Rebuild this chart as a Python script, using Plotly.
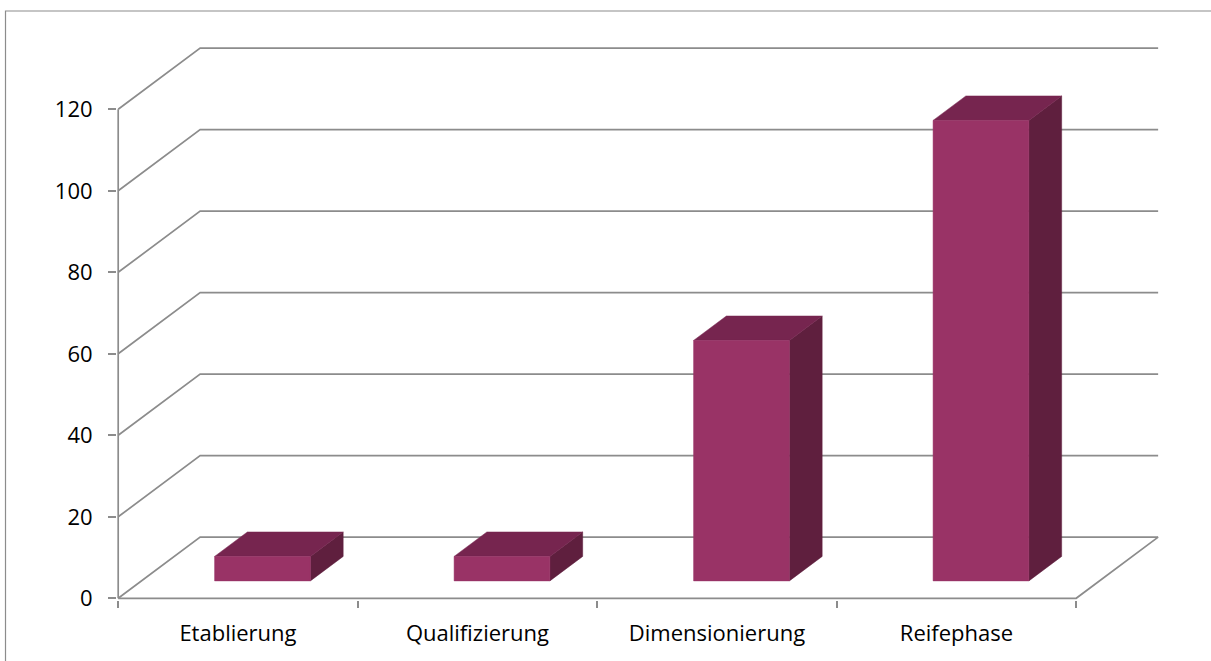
import plotly.graph_objects as go

# ---- data ----
categories = ["Etablierung", "Qualifizierung", "Dimensionierung", "Reifephase"]
values = [6, 6, 59, 113]
y_ticks = [0, 20, 40, 60, 80, 100, 120]
y_max = 120

# ---- 3D oblique projection parameters (in data units) ----
DX = 0.3422   # x shift of full depth (category-band units)
DY = 15.0     # y shift of full depth (value units)
U0, U1 = 0.305, 0.705   # bar extent inside its band
F0, F1 = 0.285, 0.685   # bar depth extent

FRONT = "#993366"
TOP = "#76254f"
SIDE = "#5f1f3e"
GRID = "#8c8c8c"
FONT = "Open Sans"

n = len(categories)
x_left = -0.5
x_right = n - 0.5


def proj(i, u, f, v):
    return (x_left + i + u + f * DX, v + f * DY)


fig = go.Figure()


def line(xs, ys):
    fig.add_trace(go.Scatter(x=xs, y=ys, mode="lines",
                             line=dict(color=GRID, width=1.7),
                             hoverinfo="skip", showlegend=False))


# back wall gridlines + left wall diagonals
for t in y_ticks:
    line([x_left, x_left + DX, x_right + DX], [t, t + DY, t + DY])
# front y axis
line([x_left, x_left], [0, y_max])
# floor front edge and right edge
line([x_left, x_right, x_right + DX], [0, 0, DY])


def poly(pts, color):
    xs = [p[0] for p in pts] + [pts[0][0]]
    ys = [p[1] for p in pts] + [pts[0][1]]
    fig.add_trace(go.Scatter(x=xs, y=ys, mode="lines", fill="toself",
                             fillcolor=color, line=dict(color=color, width=0.5),
                             hoverinfo="skip", showlegend=False))


for i, v in enumerate(values):
    front = [proj(i, U0, F0, 0), proj(i, U1, F0, 0), proj(i, U1, F0, v), proj(i, U0, F0, v)]
    top = [proj(i, U0, F0, v), proj(i, U1, F0, v), proj(i, U1, F1, v), proj(i, U0, F1, v)]
    side = [proj(i, U1, F0, 0), proj(i, U1, F1, 0), proj(i, U1, F1, v), proj(i, U1, F0, v)]
    poly(side, SIDE)
    poly(top, TOP)
    poly(front, FRONT)

# ---- layout geometry (pixels) ----
W, H = 1211, 661
px_x = 239.5       # px per category unit
px_y = 4.075       # px per value unit
left_px = 117.7    # pixel of x_left
zero_px = 598.3    # pixel of y=0

L = 116.5
x0 = x_left - (left_px - L) / px_x
x1 = x_right + DX + 0.012
plot_w = (x1 - x0) * px_x
R = W - L - plot_w

B_px = 600.0
y0 = -(B_px - zero_px) / px_y
T = 46.0
plot_h = B_px - T
y1 = y0 + plot_h / px_y
Bm = H - B_px

fig.update_layout(
    width=W, height=H,
    margin=dict(l=L, r=R, t=T, b=Bm, pad=0, autoexpand=False),
    paper_bgcolor="white", plot_bgcolor="white",
    font=dict(family=FONT, size=22, color="black"),
    showlegend=False,
    xaxis=dict(range=[x0, x1], showgrid=False, zeroline=False, showline=False,
               automargin=False,
               tickmode="array", tickvals=[x_left + k for k in range(n + 1)],
               ticktext=[""] * (n + 1), ticks="outside", ticklen=7,
               tickcolor=GRID, tickwidth=1.7, fixedrange=True),
    xaxis2=dict(range=[x0, x1], overlaying="x", side="bottom", anchor="y",
                showgrid=False, zeroline=False, showline=False, automargin=False,
                tickmode="array", tickvals=list(range(n)), ticktext=categories,
                ticks="outside", ticklen=14, tickcolor="rgba(0,0,0,0)",
                tickfont=dict(family=FONT, size=22, color="black"), fixedrange=True),
    yaxis=dict(range=[y0, y1], showgrid=False, zeroline=False, showline=False,
               automargin=False,
               tickmode="array", tickvals=y_ticks, ticks="outside", ticklen=8,
               tickcolor=GRID, tickwidth=1.7, ticklabelstandoff=11,
               tickfont=dict(family=FONT, size=22, color="black"), fixedrange=True),
    shapes=[dict(type="rect", xref="paper", yref="paper",
                 x0=(5 - L) / plot_w, x1=(W + 20 - L) / plot_w,
                 y0=(B_px - (H + 20)) / plot_h, y1=(B_px - 11) / plot_h,
                 line=dict(color="#8c8c8c", width=1.2), fillcolor="rgba(0,0,0,0)",
                 layer="below")],
)
# dummy trace to activate xaxis2
fig.add_trace(go.Scatter(x=[0], y=[0], xaxis="x2", mode="markers",
                         marker=dict(opacity=0), hoverinfo="skip", showlegend=False))

fig.write_html("out.html", config={"displayModeBar": False},
               post_script="document.body.style.margin='0';document.body.style.overflow='hidden';")
